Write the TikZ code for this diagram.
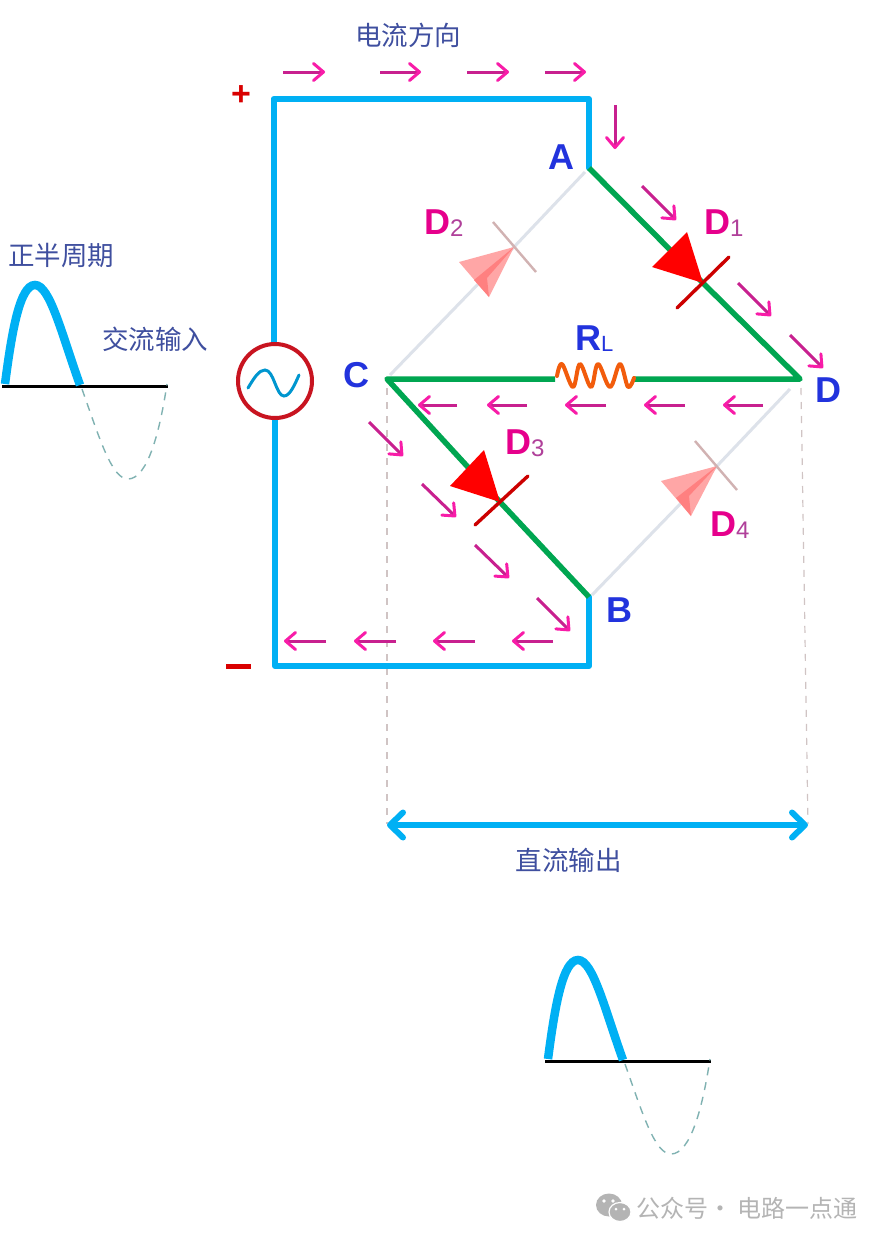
\documentclass[tikz,border=0pt]{standalone}
\usepackage{fontspec}
\setmainfont{Liberation Sans}
\newfontfamily\cjk{Noto Sans CJK SC}
\usetikzlibrary{arrows.meta,calc}
\definecolor{wireblue}{HTML}{00B0F4}
\definecolor{wiregreen}{HTML}{00A651}
\definecolor{pinkshaft}{HTML}{C8208F}
\definecolor{pinkhead}{HTML}{F81CA8}
\definecolor{lblue}{HTML}{2233DD}
\definecolor{cntext}{HTML}{3F4F9F}
\definecolor{dpink}{HTML}{E6008C}
\definecolor{subpink}{HTML}{B0409A}
\definecolor{lightwire}{HTML}{DDE2EA}
\definecolor{guide}{HTML}{D0C4C4}
\definecolor{wm}{HTML}{B4B4B4}
\definecolor{srcred}{HTML}{C81420}
\definecolor{resor}{HTML}{F25C0C}
\tikzset{
  wirestyle/.style={draw=wireblue,line width=6pt,line join=round,line cap=round},
  greenwire/.style={draw=wiregreen,line width=5.5pt,line join=round},
  offwire/.style={draw=lightwire,line width=3pt},
  curarrow/.style={draw=pinkshaft,line width=3pt,-{Straight Barb[length=10pt,width=17pt,line width=3pt,round,color=pinkhead]}},
  guideline/.style={draw=guide,line width=1.2pt,dash pattern=on 7pt off 7pt},
  cntxt/.style={text=cntext,font=\cjk\fontsize{26.5}{30}\selectfont,inner sep=0pt},
  letterlbl/.style={text=lblue,font=\bfseries\fontsize{36}{40}\selectfont,inner sep=0pt},
  diodelbl/.style={text=dpink,font=\bfseries\fontsize{36}{40}\selectfont,inner sep=0pt},
  acwave/.pic={
    \draw[black,line width=3.2pt] (2,386.5) -- (168,386.5);
    \draw[wireblue,line width=8.5pt] (5,384) .. controls (12,330) and (20,285) .. (35,285) .. controls (50,285) and (62,335) .. (80,385);
    \draw[draw=black!20!teal!50!white,line width=1.4pt,dash pattern=on 8pt off 7pt] (82,389) .. controls (100,440) and (112,479) .. (128,479) .. controls (148,479) and (160,430) .. (167,384);
  }
}
\newcommand{\sub}[2]{{#1\textcolor{subpink}{\mdseries\fontsize{24}{26}\selectfont\raisebox{-2pt}{#2}}}}
\newcommand{\cur}[4]{\draw[curarrow] (#1,#2) -- (#3,#4);}
\begin{document}
\begin{tikzpicture}[x=1pt,y=-1pt]
\useasboundingbox[fill=white] (0,0) rectangle (888,1243);
% junctions
\coordinate (A) at (589,168);
\coordinate (B) at (589,597);
\coordinate (C) at (387,379);
\coordinate (D) at (800,379);
\coordinate (TR) at (589,99);
\coordinate (TL) at (273.5,99);
\coordinate (BL) at (275,666);
\coordinate (BR) at (589,666);
\coordinate (t1) at (703,283);
\coordinate (t2) at (514,247);
\coordinate (t3) at (500,502);
\coordinate (t4) at (717,466);
\coordinate (RL) at (555,379);
\coordinate (RR) at (634,379);
% guides
\coordinate (g1) at (387,824);
\coordinate (g2) at (808,824);
\draw[guideline] (387,388) -- (g1);
\draw[guideline] (801,388) -- (g2);
% off-state branches
\draw[offwire] (585,172) -- (t2);
\draw[offwire] (t2) -- (390,375);
\draw[offwire] (790,389) -- (t4);
\draw[offwire] (t4) -- (592,595);
% wires
\node[draw=none,inner sep=0pt,minimum size=74pt,circle] (src) at (275,381) {};
\draw[wirestyle] (TL|-src.north) -- (TL) -- (TR) -- (A);
\draw[wirestyle] (BL|-src.south) -- (BL) -- (BR) -- (B);
\draw[greenwire] (A) -- (t1) -- (D) -- (RR);
\draw[greenwire] (RL) -- (C) -- (t3) -- (B);
% source
\draw[draw=srcred,fill=white,line width=4pt] (src) circle (37pt);
\draw[wireblue!85!black,line width=3pt,line cap=round] (248,388) .. controls (254,378) and (259,370) .. (265,370) .. controls (274,370) and (276,396) .. (284,396) .. controls (290,396) and (295,384) .. (299,375);
% resistor
\draw[draw=resor,line width=4pt,line cap=round,line join=round] plot[smooth,tension=.6] coordinates {(557,376) (562,364) (573,387) (580,364) (591,387) (598,364) (610,387) (620,364) (628,387) (634,378)};
% diodes
\fill[red] (t1) -- (687,232) -- (652,267) -- cycle;
\draw[red!80!black,line width=3.4pt,line cap=round] (729,257) -- (677,308);
\fill[red] (t3) -- (484,450) -- (450,486) -- cycle;
\draw[red!80!black,line width=3.4pt,line cap=round] (528,476) -- (475,525);
\fill[red!35!white] (t2) -- (459,262) -- (489,297) -- cycle;
\fill[red!50!white] (t2) -- (474,280) -- (489,297) -- (487,278) -- cycle;
\draw[red!40!black!30!white,line width=2.4pt] (493,222) -- (536,272);
\fill[red!35!white] (t4) -- (661,481) -- (691,516) -- cycle;
\fill[red!50!white] (t4) -- (676,498) -- (691,516) -- (689,496) -- cycle;
\draw[red!40!black!30!white,line width=2.4pt] (695,441) -- (737,490);
% current arrows
\cur{283}{72}{325}{72}\cur{380}{72}{421}{72}\cur{467}{72}{509}{72}\cur{545}{72}{586}{72}
\cur{615}{105}{615}{149}
\cur{642}{186}{676}{220}\cur{738}{283}{771}{316}\cur{790}{335}{823}{368}
\cur{457}{405}{418}{405}\cur{527}{405}{487}{405}\cur{606}{405}{565}{405}\cur{685}{405}{644}{405}\cur{763}{405}{723}{405}
\cur{369}{422}{403}{456}\cur{422}{484}{456}{517}\cur{475}{545}{509}{578}\cur{537}{598}{570}{631}
\cur{553}{641}{512}{641}\cur{475}{641}{433}{641}\cur{396}{641}{354}{641}\cur{326}{641}{284}{641}
% output span
\draw[draw=wireblue,line width=6pt,{Straight Barb[length=13pt,width=25pt,line width=6pt,round]}-{Straight Barb[length=13pt,width=25pt,line width=6pt,round]}] (g1|-0,825) -- (g2|-0,825);
% waves
\pic at (0,0) {acwave};
\pic at (543,675) {acwave};
% labels
\node[cntxt] (ldir) at (408,35) {电流方向};
\node[cntxt] (lpos) at (61.5,255) {正半周期};
\node[cntxt] (lac) at (155,339) {交流输入};
\node[cntxt] (ldc) at (568.5,860) {直流输出};
\node[letterlbl] (lA) at (561,157) {A};
\node[letterlbl] (lB) at (619,610) {B};
\node[letterlbl] (lC) at (356,375) {C};
\node[letterlbl] (lD) at (828,390) {D};
\node[letterlbl,anchor=south west] (lR) at (575,352) {R\textmd{\fontsize{22}{24}\selectfont\raisebox{-1pt}{L}}};
\node[diodelbl,anchor=west] (d1) at (704,223) {\sub{D}{1}};
\node[diodelbl,anchor=west] (d2) at (424,223) {\sub{D}{2}};
\node[diodelbl,anchor=west] (d3) at (505,443) {\sub{D}{3}};
\node[diodelbl,anchor=west] (d4) at (710,525) {\sub{D}{4}};
\node[text=red!85!black,font=\bfseries\fontsize{34}{36}\selectfont,inner sep=0pt] (plus) at (241,96) {+};
\fill[red!85!black] (226,663.5) rectangle (251,669);
% watermark
\fill[wm] (609,1205) ellipse (13pt and 11.5pt);
\fill[white] (604,1201) circle (1.8pt) (613,1201) circle (1.8pt);
\fill[wm,draw=white,line width=1.2pt] (620,1212) ellipse (11pt and 9.5pt);
\fill[white] (616,1209) circle (1.5pt) (624,1209) circle (1.5pt);
\node[text=wm,font=\cjk\fontsize{24}{28}\selectfont,inner sep=0pt,anchor=west] (wmt) at (636,1208) {公众号· 电路一点通};
\end{tikzpicture}
\end{document}
